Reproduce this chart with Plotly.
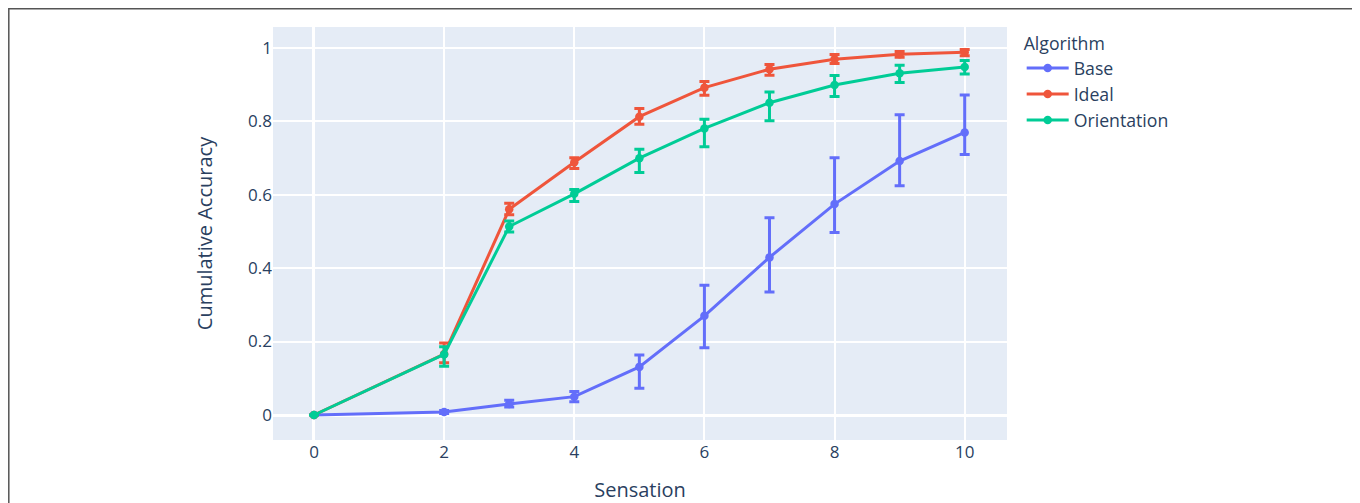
import plotly.graph_objects as go

sensation = [0, 2, 3, 4, 5, 6, 7, 8, 9, 10]

base = [0.0, 0.008, 0.030, 0.050, 0.131, 0.270, 0.429, 0.574, 0.691, 0.769]
base_hi = [0.0, 0.004, 0.010, 0.014, 0.032, 0.083, 0.108, 0.126, 0.126, 0.102]
base_lo = [0.0, 0.004, 0.008, 0.014, 0.058, 0.087, 0.094, 0.077, 0.067, 0.060]

ideal = [0.0, 0.166, 0.560, 0.688, 0.812, 0.891, 0.941, 0.968, 0.982, 0.987]
ideal_hi = [0.0, 0.030, 0.016, 0.012, 0.022, 0.017, 0.013, 0.013, 0.007, 0.008]
ideal_lo = [0.0, 0.024, 0.015, 0.017, 0.021, 0.021, 0.016, 0.011, 0.008, 0.009]

orient = [0.0, 0.165, 0.513, 0.602, 0.699, 0.780, 0.850, 0.898, 0.930, 0.947]
orient_hi = [0.0, 0.021, 0.015, 0.012, 0.024, 0.025, 0.029, 0.026, 0.022, 0.018]
orient_lo = [0.0, 0.032, 0.015, 0.021, 0.039, 0.050, 0.049, 0.031, 0.025, 0.019]

series = [
    ("Base", base, base_hi, base_lo, "#636efa"),
    ("Ideal", ideal, ideal_hi, ideal_lo, "#EF553B"),
    ("Orientation", orient, orient_hi, orient_lo, "#00cc96"),
]

fig = go.Figure()
for name, y, hi, lo, color in series:
    fig.add_trace(go.Scatter(
        x=sensation, y=y, name=name, mode="lines+markers",
        line=dict(color=color, width=3),
        marker=dict(color=color, size=8.5),
        error_y=dict(type="data", symmetric=False, array=hi, arrayminus=lo,
                     color=color, thickness=3, width=5),
    ))

# page body has an 8px margin; figure sits at (8, 8)
OFF = 8
W, H = 1360 - OFF, 503 - OFF
L, T = 273 - OFF, 27 - OFF
pw, ph = 734, 413
R = W - L - pw
B = H - T - ph

fig.update_layout(
    width=W, height=H,
    margin=dict(l=L, r=R, t=T, b=B, autoexpand=False),
    font=dict(size=17, color="#2a3f5f"),
    plot_bgcolor="#E5ECF6", paper_bgcolor="white",
    legend=dict(title=dict(text="Algorithm", font=dict(size=17.7)), font=dict(size=17.7),
                tracegroupgap=0, itemwidth=42),
    xaxis=dict(title=dict(text="Sensation", font=dict(size=20), standoff=24),
               range=[-0.63, 10.65], automargin=False,
               tickvals=[0, 2, 4, 6, 8, 10], gridcolor="white", gridwidth=1.5,
               zeroline=True, zerolinecolor="white", zerolinewidth=3, showline=False),
    yaxis=dict(title=dict(text="Cumulative Accuracy", font=dict(size=20), standoff=30),
               range=[-0.068, 1.056], automargin=False,
               tickvals=[0, 0.2, 0.4, 0.6, 0.8, 1], ticktext=["0", "0.2", "0.4", "0.6", "0.8", "1"],
               gridcolor="white", gridwidth=1.5,
               zeroline=True, zerolinecolor="white", zerolinewidth=3, showline=False),
)

# outer frame of the original screenshot (page coords -> paper coords)
plot_left, plot_bottom = 273, 27 + ph
def px(xp):
    return (xp - plot_left) / pw
def py(yp):
    return (plot_bottom - yp) / ph

fig.add_shape(type="rect", xref="paper", yref="paper",
              x0=px(8.8), x1=px(1355.5), y0=py(530), y1=py(8.8),
              line=dict(color="#555555", width=1.5), layer="above")

fig.write_html("out.html")
